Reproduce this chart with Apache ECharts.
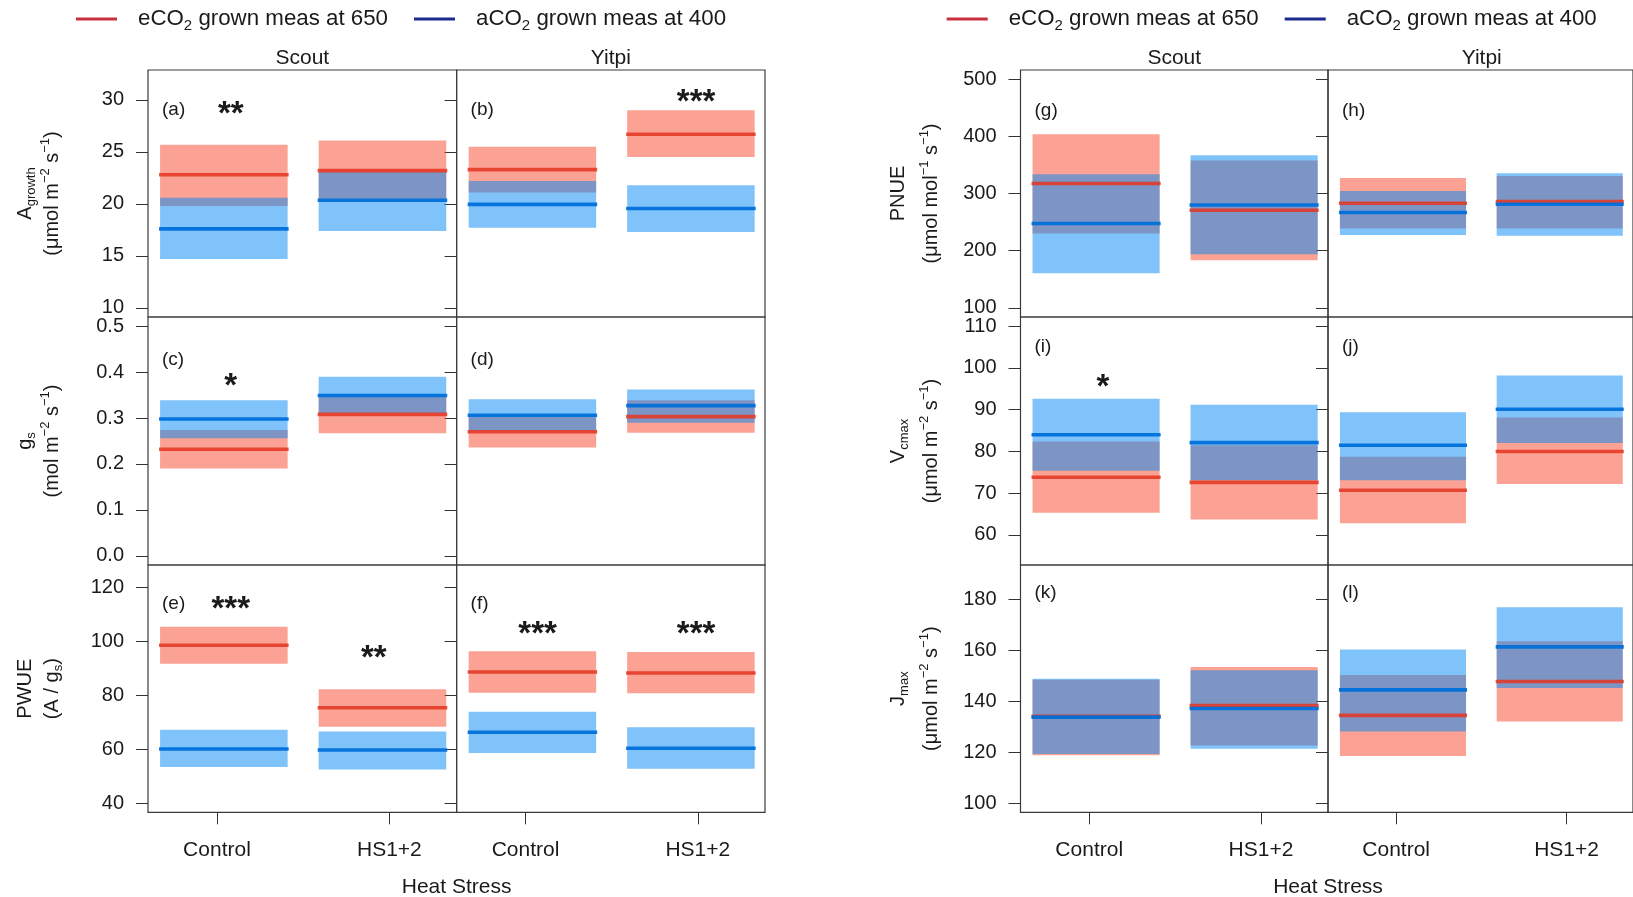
<!DOCTYPE html>
<html><head><meta charset="utf-8">
<script src="https://cdn.jsdelivr.net/npm/echarts@6/dist/echarts.min.js"></script>
<style>html,body{margin:0;padding:0;background:#fff}#c{width:1633px;height:897px}</style>
</head><body><div id="c"></div>
<script>
// ---------- data ----------
const heatCats = ['Control', 'HS1+2'];
const cultivars = ['Scout', 'Yitpi'];
const seriesNames = ['eCO2 grown meas at 650', 'aCO2 grown meas at 400'];
const panelLetters = ['a','b','c','d','e','f','g','h','i','j','k','l'];

// cells: [Scout Control, Scout HS1+2, Yitpi Control, Yitpi HS1+2]; each [lower, mean, upper]
const agrowthE = [[19.8,22.8,25.7],[20.4,23.2,26.1],[21.1,23.3,25.5],[24.5,26.7,29.0]];
const agrowthA = [[14.7,17.6,20.6],[17.4,20.35,23.1],[17.7,19.95,22.2],[17.3,19.55,21.8]];
const gsE = [[0.190,0.232,0.274],[0.267,0.308,0.347],[0.236,0.270,0.303],[0.268,0.303,0.339]];
const gsA = [[0.256,0.298,0.339],[0.310,0.349,0.390],[0.272,0.306,0.341],[0.290,0.327,0.362]];
const pwueE = [[91.7,98.6,105.5],[68.4,75.4,82.3],[81.0,88.7,96.4],[80.8,88.3,96.1]];
const pwueA = [[53.4,60.1,67.2],[52.5,59.7,66.6],[58.6,66.3,73.9],[52.8,60.4,68.2]];
const pnueE = [[230,317.5,403.7],[183.4,270.8,357.7],[238.8,283,327.3],[238.8,286,330.8]];
const pnueA = [[160.7,247.6,333.7],[193.9,280,367],[227.6,266.8,304.5],[225.9,281.3,335.5]];
const vcmaxE = [[65.3,73.8,82.4],[63.7,72.6,81.5],[62.8,70.7,78.7],[72.2,80.0,88.1]];
const vcmaxA = [[75.4,84.0,92.6],[73.1,82.1,91.2],[73.1,81.5,89.4],[82.0,90.1,98.2]];
const jmaxE = [[118.8,134.1,148.5],[122.7,138.4,153.5],[118.5,134.5,150.4],[132.1,147.8,163.6]];
const jmaxA = [[119.3,133.8,148.9],[121.4,137.2,152.2],[128.2,144.5,160.4],[145.3,161.4,177.0]];

// tick labels
const agrowthTicks = [10,15,20,25,30];
const gsTicks = [0.0,0.1,0.2,0.3,0.4,0.5];
const pwueTicks = [40,60,80,100,120];
const pnueTicks = [100,200,300,400,500];
const vcmaxTicks = [60,70,80,90,100,110];
const jmaxTicks = [100,120,140,160,180];

// significance annotations
const sigMarks = [
  {panel:'a', x:1.08, y:29.3, text:'**'},
  {panel:'b', x:1.99, y:30.5, text:'***'},
  {panel:'c', x:1.08, y:0.386, text:'*'},
  {panel:'e', x:1.08, y:114.8, text:'***'},
  {panel:'e', x:1.91, y:96.5, text:'**'},
  {panel:'f', x:1.07, y:105.6, text:'***'},
  {panel:'f', x:1.99, y:105.6, text:'***'},
  {panel:'i', x:1.08, y:97.2, text:'*'}
];

// ---------- layout / style ----------
const FONT = '"Liberation Sans", Arial, Helvetica, sans-serif';
const TXT = '#1a1a1a';
const COLX = [[148, 456.6, 765], [1020.5, 1328, 1635.5]];
const ROWY = [70, 317, 565, 812.3];
const XMIN = 0.6, XMAX = 2.39, BOX_HALF = 0.37, BOX_SHIFT = 0.04;
const BOX_FILL = ['rgba(247,69,41,0.5)', 'rgba(0,135,245,0.5)'];
const LINE_COL = ['rgba(228,56,36,0.88)', 'rgba(0,112,218,0.95)'];
const LEGEND_COL = ['#c9303e', '#1c2a8c'];
const LETTER_DY = [[40,43,39],[41,30,28]];
const TITLE_X = [[25, 52], [898, 931]];

const richAxis = {
  t: {fontSize: 20, lineHeight: 26, verticalAlign: 'middle', fontFamily: FONT, color: TXT},
  sub: {fontSize: 13, lineHeight: 13, verticalAlign: 'bottom', fontFamily: FONT, color: TXT},
  sup: {fontSize: 13, lineHeight: 13, verticalAlign: 'top', fontFamily: FONT, color: TXT}
};
const unitM2 = '{t|(μmol m}{sup|−2}{t| s}{sup|−1}{t|)}';
const measures = [
  {e: agrowthE, a: agrowthA, ticks: agrowthTicks, range: [9.12, 32.88], dec: 0, t1: '{t|A}{sub|growth}', t2: unitM2},
  {e: gsE, a: gsA, ticks: gsTicks, range: [-0.02, 0.52], dec: 1, t1: '{t|g}{sub|s}', t2: '{t|(mol m}{sup|−2}{t| s}{sup|−1}{t|)}'},
  {e: pwueE, a: pwueA, ticks: pwueTicks, range: [36.6, 128.4], dec: 0, t1: '{t|PWUE}', t2: '{t|(A / g}{sub|s}{t|)}'},
  {e: pnueE, a: pnueA, ticks: pnueTicks, range: [84, 516], dec: 0, t1: '{t|PNUE}', t2: '{t|(μmol mol}{sup|−1}{t| s}{sup|−1}{t|)}'},
  {e: vcmaxE, a: vcmaxA, ticks: vcmaxTicks, range: [52.8, 112.2], dec: 0, t1: '{t|V}{sub|cmax}', t2: unitM2},
  {e: jmaxE, a: jmaxA, ticks: jmaxTicks, range: [96.4, 193.6], dec: 0, t1: '{t|J}{sub|max}', t2: unitM2}
];

const grids = [], xAxes = [], yAxes = [], series = [], graphics = [];

function boxRender(t) {
  return function (params, api) {
    const cat = api.value(0);
    const c = cat + (cat === 1 ? BOX_SHIFT : -BOX_SHIFT);
    const p0 = api.coord([c - BOX_HALF, api.value(3)]);
    const p1 = api.coord([c + BOX_HALF, api.value(1)]);
    const ym = api.coord([c, api.value(2)])[1];
    return {type: 'group', children: [
      {type: 'rect', z2: 1 + t, shape: {x: p0[0], y: p0[1], width: p1[0] - p0[0], height: p1[1] - p0[1]},
        style: {fill: BOX_FILL[t]}},
      {type: 'line', z2: 3 + t, shape: {x1: p0[0] - 1, y1: ym, x2: p1[0] + 1, y2: ym},
        style: {stroke: LINE_COL[t], lineWidth: 3.6}}
    ]};
  };
}

for (let b = 0; b < 2; b++) {
  for (let r = 0; r < 3; r++) {
    const m = measures[b * 3 + r];
    for (let c = 0; c < 2; c++) {
      const idx = b * 6 + r * 2 + c;
      const left = COLX[b][c], width = COLX[b][c + 1] - COLX[b][c];
      const top = ROWY[r], height = ROWY[r + 1] - ROWY[r];
      grids.push({left, top, width, height, show: true, borderColor: '#3a3a3a', borderWidth: 1.2,
        backgroundColor: 'transparent'});
      const bottom = r === 2;
      xAxes.push({gridIndex: idx, type: 'value', min: XMIN, max: XMAX, show: bottom,
        axisLine: {show: false}, splitLine: {show: false},
        axisTick: {show: bottom, customValues: [1, 2], length: 12, lineStyle: {color: '#333', width: 1}},
        axisLabel: {show: bottom, customValues: [1, 2], margin: 27, fontSize: 21, fontFamily: FONT, color: TXT,
          formatter: v => heatCats[Math.round(v) - 1]}});
      yAxes.push({gridIndex: idx, type: 'value', min: m.range[0], max: m.range[1],
        axisLine: {show: false}, splitLine: {show: false},
        axisTick: {show: true, customValues: m.ticks, length: 12, lineStyle: {color: '#333', width: 1}},
        axisLabel: {show: c === 0, customValues: m.ticks, margin: 24, fontSize: 20, fontFamily: FONT, color: TXT,
          formatter: v => Number(v).toFixed(m.dec)}});
      [m.e, m.a].forEach((arr, t) => {
        series.push({type: 'custom', name: seriesNames[t], xAxisIndex: idx, yAxisIndex: idx,
          itemStyle: {color: LEGEND_COL[t]}, silent: true,
          data: [0, 1].map(k => [k + 1].concat(arr[c * 2 + k])),
          renderItem: boxRender(t)});
      });
      const marks = sigMarks.filter(s => s.panel === panelLetters[idx]);
      if (marks.length) {
        series.push({type: 'custom', xAxisIndex: idx, yAxisIndex: idx, silent: true,
          data: marks.map(s => [s.x, s.y]),
          renderItem: (params, api) => {
            const p = api.coord([api.value(0), api.value(1)]);
            return {type: 'text', z2: 10, x: p[0], y: p[1] + 8,
              style: {text: marks[params.dataIndex].text, fontSize: 33, fontWeight: 'bold',
                fontFamily: FONT, fill: TXT, align: 'center', verticalAlign: 'middle'}};
          }});
      }
      graphics.push({type: 'text', x: left + 14, y: top + LETTER_DY[b][r],
        style: {text: '(' + panelLetters[idx] + ')', fontSize: 19, fontFamily: FONT, fill: TXT,
          align: 'left', verticalAlign: 'middle'}});
    }
    const cy = (ROWY[r] + ROWY[r + 1]) / 2;
    [m.t1, m.t2].forEach((txt, k) => {
      graphics.push({type: 'text', x: TITLE_X[b][k], y: cy, rotation: Math.PI / 2,
        style: {text: txt, rich: richAxis, align: 'center', verticalAlign: 'middle', fill: TXT}});
    });
  }
  for (let c = 0; c < 2; c++) {
    graphics.push({type: 'text', x: (COLX[b][c] + COLX[b][c + 1]) / 2, y: 58,
      style: {text: cultivars[c], fontSize: 21, fontFamily: FONT, fill: TXT, align: 'center', verticalAlign: 'middle'}});
  }
  graphics.push({type: 'text', x: COLX[b][1], y: 887,
    style: {text: 'Heat Stress', fontSize: 21, fontFamily: FONT, fill: TXT, align: 'center', verticalAlign: 'middle'}});
}

const legendRich = {
  p: {width: 16},
  t: {fontSize: 22.3, lineHeight: 28, verticalAlign: 'middle', fontFamily: FONT, color: TXT},
  s: {fontSize: 15, lineHeight: 15, verticalAlign: 'bottom', fontFamily: FONT, color: TXT}
};
const legends = [76, 946.7].map(lx => ({
  left: lx, top: 8, padding: 0, orient: 'horizontal', icon: 'rect', itemWidth: 41, itemHeight: 3, itemGap: 26,
  selectedMode: false,
  data: seriesNames.map((n, t) => ({name: n, itemStyle: {color: LEGEND_COL[t]}})),
  formatter: n => '{p|}{t|' + n.replace('CO2', 'CO}{s|2}{t|') + '}',
  textStyle: {rich: legendRich}
}));

const chart = echarts.init(document.getElementById('c'), null, {renderer: 'canvas'});
chart.setOption({
  backgroundColor: '#ffffff',
  animation: false,
  legend: legends,
  grid: grids, xAxis: xAxes, yAxis: yAxes, series: series,
  graphic: graphics
});
</script></body></html>
